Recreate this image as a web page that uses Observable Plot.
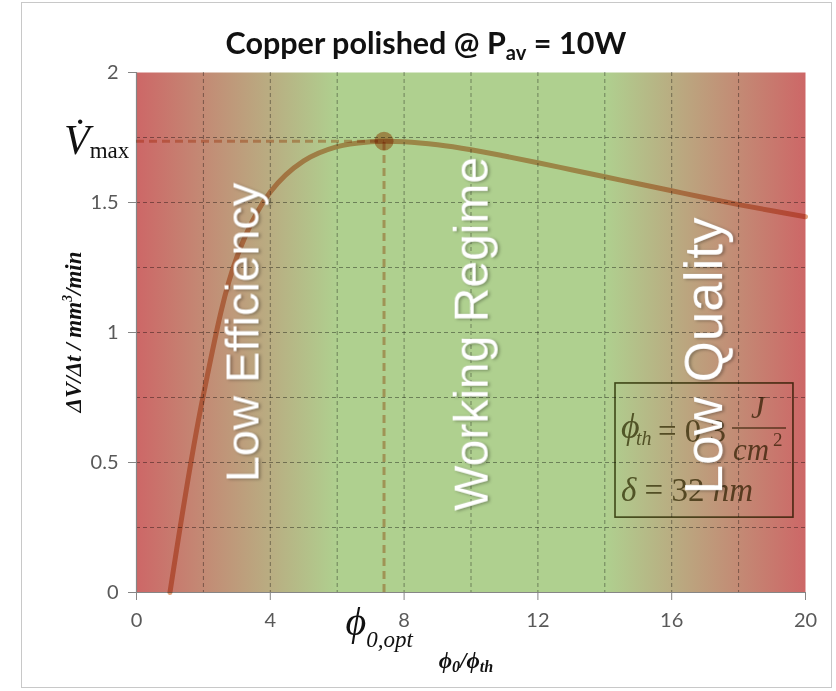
<!DOCTYPE html>
<html><head><meta charset="utf-8">
<script src="https://cdn.jsdelivr.net/npm/d3@7"></script>
<script src="https://cdn.jsdelivr.net/npm/@observablehq/plot@0.6"></script>
<style>
body{margin:0;background:#fff;}
#wrap{position:relative;width:836px;height:691px;overflow:hidden;font-family:Lato,sans-serif;}
#border{position:absolute;left:21px;top:2px;width:811px;height:686px;border:1px solid #c8c8c8;box-sizing:border-box;pointer-events:none;}
.ov{position:absolute;white-space:nowrap;line-height:1;}
.serif{font-family:"Liberation Serif","Times New Roman",serif;}
</style></head><body><div id="wrap"><div id="border"></div></div>
<script>
// ---- data ----
const curveX = [1, 2, 3, 4, 5, 6, 7, 7.4, 8, 9, 10, 11, 12, 13, 14, 15, 16, 17, 18, 19, 20];
const curveY = [0, 0.76, 1.29, 1.54, 1.66, 1.715, 1.734, 1.736, 1.734, 1.722, 1.703, 1.679, 1.653, 1.626, 1.599, 1.572, 1.545, 1.518, 1.492, 1.468, 1.445];
const phiOpt = 7.4;
const vMax = 1.736;
const xTicks = [0, 4, 8, 12, 16, 20];
const yTicks = [0, 0.5, 1, 1.5, 2];
const xGrid = [2, 4, 6, 8, 10, 12, 14, 16, 18];
const yGrid = [0.25, 0.5, 0.75, 1, 1.25, 1.5, 1.75];
const regionNames = ["Low Efficiency", "Working Regime", "Low Quality"];
const regionX = [3.2, 10.05, 17.0];
const regionY = [1.0, 0.995, 0.91];
const boxX = [14.32, 19.64];
const boxY = [0.288, 0.804];
const phiTh = "0.3";
const delta = "32";

// ---- styles ----
const curveColor = "#e2a47e";
const regionFont = {"Low Efficiency": 47, "Working Regime": 48, "Low Quality": 53};

const curve = curveX.map((x, i) => ({x, y: curveY[i]}));
const regions = regionNames.map((name, i) => ({name, x: regionX[i], y: regionY[i]}));

const chart = Plot.plot({
  width: 836, height: 691,
  marginLeft: 136, marginRight: 31, marginTop: 72, marginBottom: 99,
  x: {domain: [0, 20]},
  y: {domain: [0, 2]},
  style: {fontFamily: "Lato, sans-serif", fontSize: "20px", color: "#595959", background: "transparent", overflow: "visible"},
  marks: [
    Plot.frame({fill: "url(#bgGrad)", stroke: "none"}),
    Plot.gridX(xGrid, {stroke: "#000", strokeOpacity: 0.38, strokeDasharray: "4,3"}),
    Plot.gridY(yGrid, {stroke: "#000", strokeOpacity: 0.38, strokeDasharray: "4,3"}),
    Plot.ruleY([0], {stroke: "#868686", strokeWidth: 1.2}),
    Plot.ruleX([0], {stroke: "#868686", strokeWidth: 1.2}),
    Plot.axisX(xTicks, {tickSize: 8, tickPadding: 12, stroke: "#868686", fill: "#595959", fontSize: 20, label: null, tickFormat: d => String(d)}),
    Plot.axisY(yTicks, {tickSize: 8, tickPadding: 10, stroke: "#868686", fill: "#595959", fontSize: 20, label: null, tickFormat: d => String(d)}),
    Plot.ruleY([{y: vMax, x1: 0, x2: phiOpt}], {y: "y", x1: "x1", x2: "x2", stroke: curveColor, strokeWidth: 3, strokeDasharray: "8,5", strokeOpacity: 0.8, mixBlendMode: "multiply"}),
    Plot.ruleX([{x: phiOpt, y1: 0, y2: vMax}], {x: "x", y1: "y1", y2: "y2", stroke: curveColor, strokeWidth: 3, strokeDasharray: "8,5", strokeOpacity: 0.8, mixBlendMode: "multiply"}),
    Plot.line(curve, {x: "x", y: "y", curve: "catmull-rom", stroke: curveColor, strokeWidth: 5, mixBlendMode: "multiply"}),
    Plot.dot([{x: phiOpt, y: vMax}], {x: "x", y: "y", r: 9.5, fill: curveColor, stroke: "none", mixBlendMode: "multiply"}),
    Plot.rect([{x1: boxX[0], x2: boxX[1], y1: boxY[0], y2: boxY[1]}], {x1: "x1", x2: "x2", y1: "y1", y2: "y2", fill: "none", stroke: "#5a5a28", strokeWidth: 1.6, mixBlendMode: "multiply"}),
    Plot.text(regions, {x: "x", y: "y", text: "name", rotate: -90, fill: "white", fontFamily: "'Liberation Sans', Arial, sans-serif", fontSize: d => regionFont[d.name]})
  ]
});

const NS = "http://www.w3.org/2000/svg";
function el(tag, attrs, text) {
  const e = document.createElementNS(NS, tag);
  for (const k in attrs) e.setAttribute(k, attrs[k]);
  if (text != null) e.textContent = text;
  return e;
}
// gradient definitions
const defs = el("defs", {});
const grad = el("linearGradient", {id: "bgGrad", x1: "0", x2: "1", y1: "0", y2: "0"});
[[0, "#cd6767"], [0.3, "#afd08f"], [0.7, "#afd08f"], [1, "#cd6767"]].forEach(([o, c]) => grad.appendChild(el("stop", {offset: o, "stop-color": c})));
defs.appendChild(grad);
chart.insertBefore(defs, chart.firstChild);

// region label shadow
const regionG = chart.querySelector('g[aria-label="text"]') || chart.lastChild;
regionG.style.filter = "drop-shadow(2px 1px 1.5px rgba(0,0,0,0.3))";

// formula inside the parameter box
const xs = chart.scale("x"), ys = chart.scale("y");
const bx = xs.apply(boxX[0]), by = ys.apply(boxY[1]);
const fg = el("g", {fill: "#736e46", style: "mix-blend-mode:multiply", "text-anchor": "start", "font-family": "'Liberation Serif','Times New Roman',serif"});
fg.appendChild(el("text", {x: bx + 6, y: by + 55, "font-size": 36, "font-style": "italic"}, "ϕ"));
fg.appendChild(el("text", {x: bx + 21, y: by + 62, "font-size": 20, "font-style": "italic"}, "th"));
fg.appendChild(el("text", {x: bx + 43, y: by + 59, "font-size": 33}, "= " + phiTh));
fg.appendChild(el("line", {x1: bx + 117, x2: bx + 171, y1: by + 45, y2: by + 45, stroke: "#736e46", "stroke-width": 1.5}));
fg.appendChild(el("text", {x: bx + 143, y: by + 35, "font-size": 31, "font-style": "italic", "text-anchor": "middle"}, "J"));
fg.appendChild(el("text", {x: bx + 118, y: by + 77, "font-size": 31, "font-style": "italic"}, "cm"));
fg.appendChild(el("text", {x: bx + 158, y: by + 63, "font-size": 19}, "2"));
const dt = el("text", {x: bx + 6, y: by + 118, "font-size": 33});
dt.appendChild(el("tspan", {"font-style": "italic"}, "δ"));
dt.appendChild(el("tspan", {}, " = " + delta + " "));
dt.appendChild(el("tspan", {"font-style": "italic"}, "nm"));
fg.appendChild(dt);
chart.insertBefore(fg, regionG);

const wrap = document.getElementById("wrap");
wrap.insertBefore(chart, wrap.firstChild);
chart.style.position = "absolute"; chart.style.left = "0"; chart.style.top = "0";

function ov(html, css) {
  const d = document.createElement("div");
  d.className = "ov";
  d.innerHTML = html;
  Object.assign(d.style, css);
  wrap.appendChild(d);
  return d;
}
// title
ov('Copper polished @ P<span style="font-size:0.66em;position:relative;top:0.3em">av</span> = 10W',
   {left: "426px", top: "27px", transform: "translateX(-50%)", fontWeight: "700", fontSize: "30.5px", color: "#111", fontFamily: "Lato, sans-serif"});
// y label
ov('<span class="serif" style="font-weight:700;font-style:italic">ΔV/Δt / mm<sup style="font-size:0.6em">3</sup>/min</span>',
   {left: "73px", top: "332px", transform: "translate(-50%,-50%) rotate(-90deg)", fontSize: "23px", color: "#111"});
// Vmax label
const vy = ys.apply(vMax);
ov('<span class="serif" style="font-style:italic;font-size:42px">V&#775;</span><span class="serif" style="font-size:23px;position:relative;top:4px">max</span>',
   {left: "64px", top: (vy - 22) + "px", color: "#111"});
// phi opt label
const px = xs.apply(phiOpt);
ov('<span class="serif" style="font-style:italic;font-size:40px">ϕ</span><span class="serif" style="font-style:italic;font-size:23px;position:relative;top:12px">0,opt</span>',
   {left: (px - 38) + "px", top: "602px", color: "#111"});
// x label
ov('<span class="serif" style="font-weight:700;font-style:italic;font-size:23px">ϕ<span style="font-size:0.7em;position:relative;top:0.25em">0</span>/ϕ<span style="font-size:0.7em;position:relative;top:0.25em">th</span></span>',
   {left: "466px", top: "649px", transform: "translateX(-50%)", color: "#111"});
</script>
</body></html>
